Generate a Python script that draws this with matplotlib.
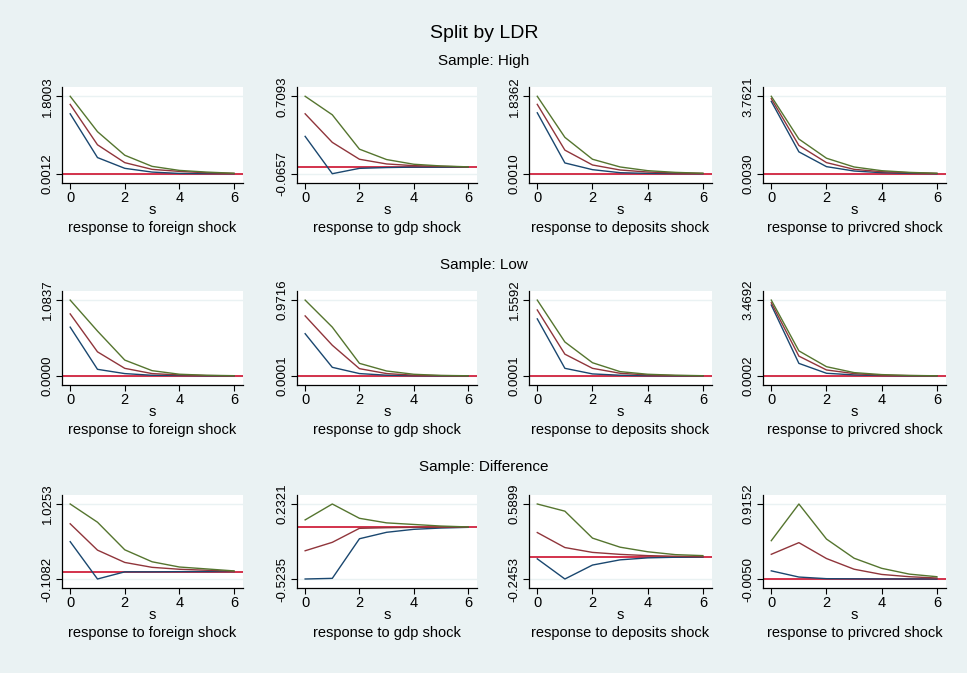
import numpy as np
import matplotlib
matplotlib.use('Agg')
import matplotlib.pyplot as plt

plt.rcParams['font.family'] = ['Liberation Sans', 'DejaVu Sans']

# horizon
steps = [0, 1, 2, 3, 4, 5, 6]
shocks = ['foreign', 'gdp', 'deposits', 'privcred']
samples = ['High', 'Low', 'Difference']

# Sample: High  (lower bound / irf / upper bound), one list per shock
high_lo = [[1.393, 0.376, 0.126, 0.039, 0.008, 0.003, 0.0012],
           [0.308, -0.0657, -0.012, -0.004, 0.0, 0.0, 0.0],
           [1.445, 0.256, 0.097, 0.025, 0.009, 0.003, 0.0010],
           [3.517, 1.065, 0.346, 0.134, 0.052, 0.019, 0.0030]]
high_irf = [[1.612, 0.673, 0.258, 0.102, 0.055, 0.023, 0.008],
            [0.534, 0.248, 0.079, 0.032, 0.015, 0.008, 0.002],
            [1.645, 0.560, 0.208, 0.089, 0.041, 0.017, 0.009],
            [3.648, 1.376, 0.542, 0.215, 0.101, 0.052, 0.019]]
high_hi = [[1.8003, 0.978, 0.430, 0.172, 0.078, 0.039, 0.012],
           [0.7093, 0.524, 0.180, 0.076, 0.029, 0.012, 0.003],
           [1.8362, 0.863, 0.344, 0.161, 0.073, 0.033, 0.012],
           [3.7621, 1.686, 0.755, 0.330, 0.150, 0.068, 0.025]]

# Sample: Low
low_lo = [[0.697, 0.094, 0.033, 0.009, 0.005, 0.001, 0.0000],
          [0.541, 0.110, 0.030, 0.009, 0.002, 0.0005, 0.0001],
          [1.173, 0.156, 0.041, 0.014, 0.003, 0.001, 0.0001],
          [3.243, 0.573, 0.121, 0.045, 0.015, 0.004, 0.0002]]
low_irf = [[0.886, 0.344, 0.108, 0.033, 0.014, 0.005, 0.001],
           [0.769, 0.393, 0.093, 0.030, 0.009, 0.004, 0.001],
           [1.356, 0.447, 0.156, 0.054, 0.020, 0.007, 0.002],
           [3.349, 0.905, 0.272, 0.106, 0.030, 0.015, 0.004]]
low_hi = [[1.0837, 0.641, 0.226, 0.075, 0.024, 0.009, 0.003],
          [0.9716, 0.625, 0.161, 0.063, 0.021, 0.006, 0.002],
          [1.5592, 0.698, 0.271, 0.088, 0.034, 0.014, 0.004],
          [3.4692, 1.146, 0.422, 0.151, 0.060, 0.020, 0.006]]

# Sample: Difference
diff_lo = [[0.456, -0.1082, 0.0, 0.0, 0.003, 0.004, 0.004],
           [-0.5235, -0.517, -0.118, -0.053, -0.023, -0.010, -0.003],
           [-0.021, -0.2453, -0.090, -0.032, -0.010, -0.003, -0.001],
           [0.095, 0.019, -0.001, -0.003, -0.004, -0.0045, -0.0050]]
diff_irf = [[0.726, 0.328, 0.142, 0.068, 0.039, 0.024, 0.008],
            [-0.239, -0.154, -0.013, -0.007, -0.003, -0.002, 0.0],
            [0.272, 0.105, 0.051, 0.029, 0.015, 0.008, 0.004],
            [0.298, 0.441, 0.246, 0.115, 0.051, 0.023, 0.007]]
diff_hi = [[1.0253, 0.750, 0.333, 0.152, 0.073, 0.044, 0.014],
           [0.072, 0.2321, 0.088, 0.042, 0.026, 0.010, 0.001],
           [0.5899, 0.510, 0.210, 0.109, 0.058, 0.026, 0.015],
           [0.465, 0.9152, 0.485, 0.250, 0.126, 0.055, 0.023]]

all_lo = [high_lo, low_lo, diff_lo]
all_irf = [high_irf, low_irf, diff_irf]
all_hi = [high_hi, low_hi, diff_hi]

BG = '#eaf2f3'
NAVY = '#1a476f'
MAROON = '#90353b'
GREEN = '#55752f'
ZERO = '#d0223e'

W, H = 967, 673
fig = plt.figure(figsize=(W / 100, H / 100), dpi=100)
fig.patch.set_facecolor(BG)

# pixel layout of the panels
cols = [(62, 243), (297, 477), (529, 712), (763, 946)]
rows = [(87, 183), (291, 385), (495, 588)]
row_title_y = [61, 265, 467]

fig.text(484 / W, 1 - 33 / H, 'Split by LDR', ha='center', va='center', fontsize=14)

for r in range(3):
    top, bot = rows[r]
    fig.text(484 / W, 1 - row_title_y[r] / H, 'Sample: ' + samples[r],
             ha='center', va='center', fontsize=11)
    for c in range(4):
        left, right = cols[c]
        ax = fig.add_axes([left / W, 1 - bot / H, (right - left) / W, (bot - top) / H])
        lo = np.array(all_lo[r][c])
        irf = np.array(all_irf[r][c])
        hi = np.array(all_hi[r][c])
        ymin = min(lo.min(), irf.min(), hi.min())
        ymax = max(lo.max(), irf.max(), hi.max())
        pad = (ymax - ymin) * 0.12
        ax.set_ylim(ymin - pad, ymax + pad)
        ax.set_xlim(-0.3, 6.33)

        for yv in (ymin, ymax):
            ax.axhline(yv, color=BG, lw=1.0, zorder=1)
        ax.axhline(0, color=ZERO, lw=1.3, zorder=2)
        ax.plot(steps, lo, color=NAVY, lw=1.0, zorder=3)
        ax.plot(steps, irf, color=MAROON, lw=1.0, zorder=3)
        ax.plot(steps, hi, color=GREEN, lw=1.0, zorder=3)

        ax.set_yticks([ymin, ymax])
        ax.set_yticklabels(['%.4f' % ymin, '%.4f' % ymax], rotation=90, va='center',
                           fontsize=9.5)
        ax.set_xticks([0, 2, 4, 6])
        ax.tick_params(axis='x', labelsize=10.5, length=4, pad=2)
        ax.tick_params(axis='y', length=4, pad=2)
        for sp in ['top', 'right']:
            ax.spines[sp].set_visible(False)
        ax.spines['left'].set_linewidth(0.9)
        ax.spines['bottom'].set_linewidth(0.9)
        ax.set_facecolor('white')

        xc = (left + right) / 2 / W
        fig.text(xc, 1 - (bot + 27) / H, 's', ha='center', va='center', fontsize=10.5)
        fig.text(xc, 1 - (bot + 45) / H, 'response to %s shock' % shocks[c],
                 ha='center', va='center', fontsize=10.5)

fig.savefig('out.png', dpi=100, facecolor=BG)
